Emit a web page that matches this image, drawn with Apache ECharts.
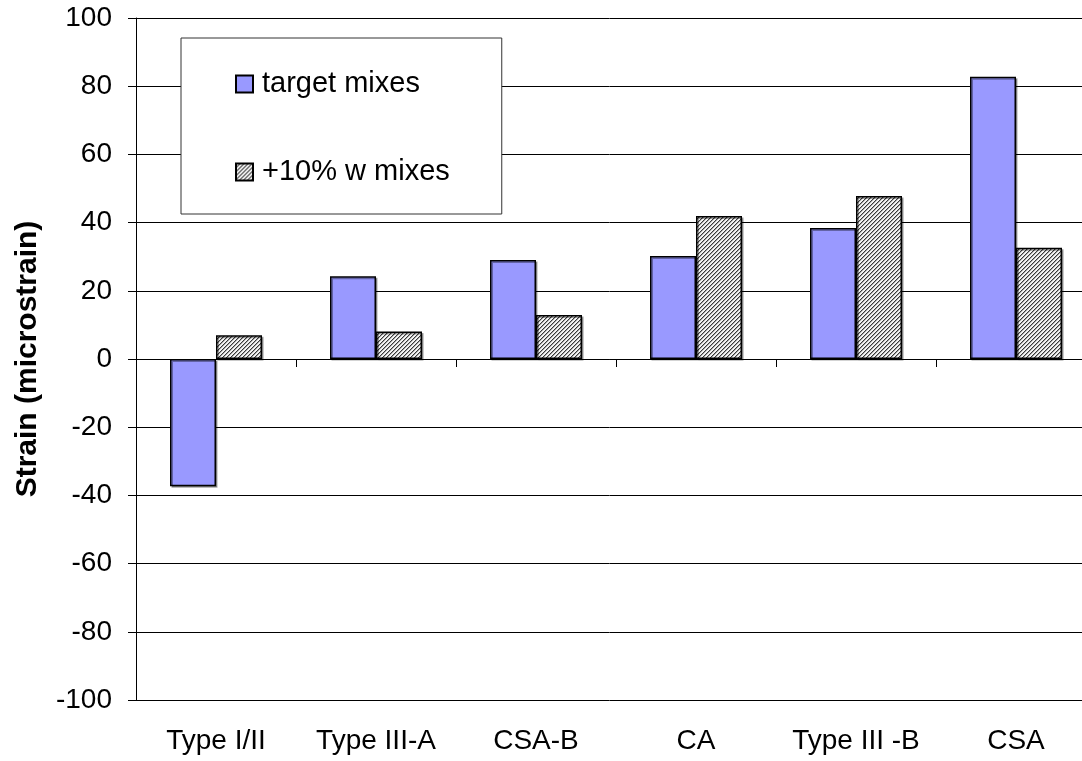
<!DOCTYPE html>
<html>
<head>
<meta charset="utf-8">
<script src="https://cdn.jsdelivr.net/npm/echarts@6/dist/echarts.min.js"></script>
<style>
html,body{margin:0;padding:0;background:#fff;}
#chart{width:1082px;height:761px;}
</style>
</head>
<body>
<div id="chart"></div>
<script>
const categories = ['Type I/II', 'Type III-A', 'CSA-B', 'CA', 'Type III -B', 'CSA'];
const targetMixes = [-37.3, 24.3, 29.0, 30.2, 38.4, 82.8];
const plusTenMixes = [7.0, 8.1, 12.9, 41.9, 47.8, 32.6];
const seriesNames = ['target mixes', '+10% w mixes'];
const yMin = -100, yMax = 100, yStep = 20;

function makeHatch() {
  const c = document.createElement('canvas');
  c.width = 4; c.height = 4;
  const g = c.getContext('2d');
  g.fillStyle = '#f4f4f4';
  g.fillRect(0, 0, 4, 4);
  for (let i = 0; i < 4; i++) {
    g.fillStyle = '#3a3a3a';
    g.fillRect(i, 3 - i, 1, 1);
    g.fillStyle = '#a8a8a8';
    g.fillRect((i + 1) % 4, 3 - i, 1, 1);
  }
  return c;
}
const hatch = { image: makeHatch(), repeat: 'repeat' };
const FONT = "'Liberation Sans', Arial, sans-serif";

const chart = echarts.init(document.getElementById('chart'), null, { renderer: 'canvas' });
chart.setOption({
  animation: false,
  backgroundColor: '#fff',
  textStyle: { fontFamily: FONT },
  grid: { left: 136, top: 18, right: -14, bottom: 61, containLabel: false, outerBoundsMode: 'none' },
  legend: {
    orient: 'vertical',
    left: 181, top: 38,
    data: seriesNames,
    icon: 'rect',
    itemWidth: 17, itemHeight: 17,
    itemGap: 58,
    padding: [31, 52, 27, 54],
    backgroundColor: '#fff',
    borderColor: '#333',
    borderWidth: 1,
    borderRadius: 0,
    textStyle: { fontSize: 29, color: '#000', fontFamily: FONT, lineHeight: 30, padding: [0, 0, 0, 4] }
  },
  xAxis: [
    {
      type: 'category', data: categories,
      axisLine: { onZero: true, lineStyle: { color: '#000', width: 1 } },
      axisTick: { show: true, length: 8, inside: false, lineStyle: { color: '#000' } },
      axisLabel: { show: false },
      splitLine: { show: false }
    },
    {
      type: 'category', data: categories, position: 'bottom',
      axisLine: { show: false, onZero: false },
      axisTick: { show: false },
      axisLabel: { show: true, interval: 0, fontSize: 28, color: '#000', margin: 27, fontFamily: FONT, hideOverlap: false },
      splitLine: { show: false }
    }
  ],
  yAxis: {
    type: 'value', min: yMin, max: yMax, interval: yStep,
    name: 'Strain (microstrain)', nameLocation: 'middle', nameGap: 93, nameRotate: 90,
    nameTextStyle: { fontSize: 30, fontWeight: 'bold', color: '#000', fontFamily: FONT },
    axisLine: { show: true, lineStyle: { color: '#000', width: 1 } },
    axisTick: { show: true, length: 8, lineStyle: { color: '#000' } },
    axisLabel: { fontSize: 28, color: '#000', margin: 24, fontFamily: FONT },
    splitLine: { show: true, lineStyle: { color: '#000', width: 1 } }
  },
  series: [
    {
      name: seriesNames[0], type: 'bar', data: targetMixes, xAxisIndex: 0,
      barWidth: '28.75%', barGap: '0%',
      itemStyle: { color: '#9999FF', borderColor: '#000', borderWidth: 1.5,
        shadowColor: 'rgba(0,0,0,0.35)', shadowOffsetX: 1.5, shadowOffsetY: 1.5, shadowBlur: 0 }
    },
    {
      name: seriesNames[1], type: 'bar', data: plusTenMixes, xAxisIndex: 0,
      barWidth: '28.75%', barGap: '0%',
      itemStyle: { color: hatch, borderColor: '#000', borderWidth: 1.5,
        shadowColor: 'rgba(0,0,0,0.35)', shadowOffsetX: 1.5, shadowOffsetY: 1.5, shadowBlur: 0 }
    }
  ]
});
</script>
</body>
</html>
